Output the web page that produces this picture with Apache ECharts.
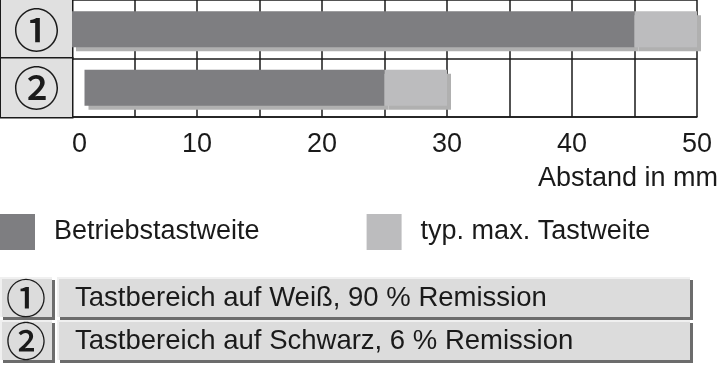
<!DOCTYPE html>
<html>
<head>
<meta charset="utf-8">
<script src="https://cdn.jsdelivr.net/npm/echarts@6/dist/echarts.min.js"></script>
<style>html,body{margin:0;padding:0;background:#fff}#c{width:720px;height:365px}</style>
</head>
<body>
<div id="c"></div>
<script>
// ---- data ----
const categories = ['①', '②'];
const startOffset = [0, 1];          // mm, where each range begins
const operatingRange = [45, 24];     // Betriebstastweite (length, mm)
const extraMaxRange = [5, 5];        // up to typ. max. Tastweite (length, mm)
const seriesNames = ['Betriebstastweite', 'typ. max. Tastweite'];
const axisName = 'Abstand in mm';
const tableMarks = ['①', '②'];
const tableTexts = ['Tastbereich auf Weiß, 90 % Remission', 'Tastbereich auf Schwarz, 6 % Remission'];

// ---- style ----
const FONT = 'Liberation Sans';
const CJK = 'Noto Sans CJK JP';
const INK = '#1a1a1a';
const DARK = '#7e7e81';
const LIGHT = '#bcbcbe';
const SHADOW = '#b0b0b0';

const chart = echarts.init(document.getElementById('c'));

function tableCell(x, y, w, h) {
  return [
    { type: 'rect', shape: { x: x + 3, y: y + 3, width: w, height: h }, style: { fill: '#6c6c6c' } },
    { type: 'rect', shape: { x: x, y: y, width: w, height: h }, style: { fill: '#dcdcdc' } },
    { type: 'polyline', shape: { points: [[x + 1, y + h], [x + 1, y + 1], [x + w, y + 1]] }, style: { stroke: '#f0f0f0', lineWidth: 2, fill: null } }
  ];
}
const graphics = [];
tableTexts.forEach((t, i) => {
  const y = 277 + i * 43;
  graphics.push(...tableCell(0, y, 52, 40));
  graphics.push(...tableCell(57, y, 633, 40));
  graphics.push({ type: 'text', x: 26, y: y + 21, style: { text: tableMarks[i], font: '500 40px "' + CJK + '"', fill: INK, align: 'center', verticalAlign: 'middle' } });
  graphics.push({ type: 'text', x: 75, y: y + 21, style: { text: t, font: '27.5px "' + FONT + '"', fill: INK, align: 'left', verticalAlign: 'middle' } });
});

const barShadow = { shadowColor: SHADOW, shadowOffsetX: 4, shadowOffsetY: 4, shadowBlur: 0 };

chart.setOption({
  animation: false,
  backgroundColor: '#fff',
  grid: { left: 72, right: 23, top: 0, bottom: 248, containLabel: false, outerBoundsMode: 'none' },
  legend: {
    data: seriesNames,
    left: 0, top: 214, padding: 0,
    itemWidth: 35, itemHeight: 36, itemGap: 107,
    icon: 'rect',
    itemStyle: { shadowColor: 'transparent', shadowOffsetX: 0, shadowOffsetY: 0, borderWidth: 0 },
    textStyle: { fontFamily: FONT, fontSize: 27, color: INK, padding: [2, 0, 0, 14] }
  },
  xAxis: {
    type: 'value', min: 0, max: 50, interval: 10,
    name: axisName, nameLocation: 'end', nameGap: 21,
    nameTextStyle: { fontFamily: FONT, fontSize: 27, color: INK, align: 'right', verticalAlign: 'top', padding: [48, 0, 0, 0] },
    axisLine: { show: true, lineStyle: { color: INK, width: 1.5 } },
    axisTick: { show: false },
    minorTick: { show: false, splitNumber: 2 },
    splitLine: { show: true, lineStyle: { color: INK, width: 1.5 } },
    minorSplitLine: { show: true, lineStyle: { color: INK, width: 1.5 } },
    axisLabel: { fontFamily: FONT, fontSize: 27, color: INK, margin: 14, alignMinLabel: 'left', alignMaxLabel: 'center' }
  },
  yAxis: {
    type: 'category', inverse: true, data: categories,
    axisLine: { show: true, lineStyle: { color: INK, width: 1.5 } },
    axisTick: { show: false },
    splitLine: { show: true, lineStyle: { color: INK, width: 1.5 } },
    axisLabel: {
      interval: 0, margin: 0,
      formatter: v => '{c|' + v + '}',
      rich: { c: { width: 71, height: 58.5, lineHeight: 58.5, align: 'center', verticalAlign: 'middle',
        backgroundColor: '#e0e0e0', borderColor: INK, borderWidth: 1.5,
        fontFamily: CJK, fontWeight: 500, fontSize: 46, color: INK } }
    }
  },
  series: [
    { name: 'offset', type: 'bar', stack: 'r', barWidth: 36, data: startOffset, silent: true,
      itemStyle: { color: 'rgba(0,0,0,0)' } },
    { name: seriesNames[0], type: 'bar', stack: 'r', barWidth: 36, data: operatingRange,
      itemStyle: Object.assign({ color: DARK }, barShadow) },
    { name: seriesNames[1], type: 'bar', stack: 'r', barWidth: 36, data: extraMaxRange,
      itemStyle: Object.assign({ color: LIGHT }, barShadow) }
  ],
  graphic: graphics
});
</script>
</body>
</html>
